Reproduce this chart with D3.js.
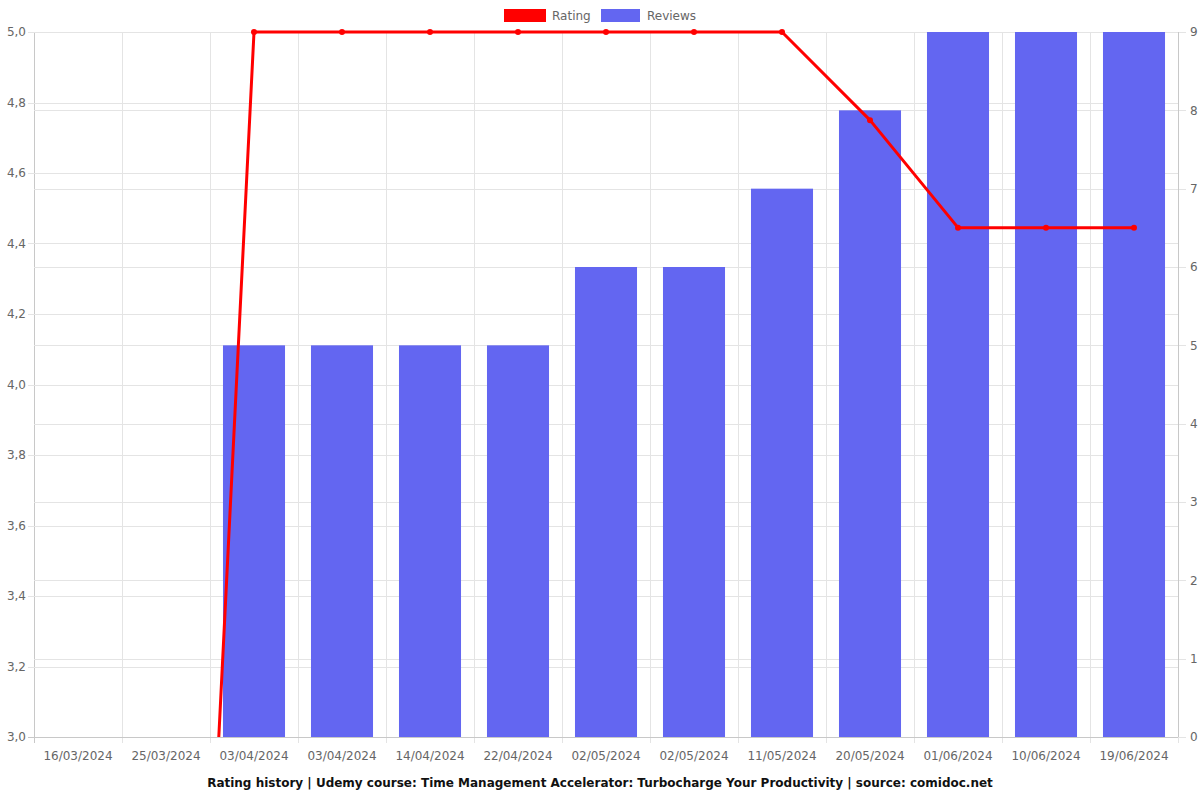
<!DOCTYPE html>
<html><head><meta charset="utf-8">
<script src="https://cdn.jsdelivr.net/npm/d3@7"></script>
<style>body{margin:0;background:#fff}svg{display:block}text{font-family:"DejaVu Sans",sans-serif}</style>
</head><body>
<svg id="c" width="1200" height="800"></svg>
<script>
const dates = ["16/03/2024","25/03/2024","03/04/2024","03/04/2024","14/04/2024","22/04/2024","02/05/2024","02/05/2024","11/05/2024","20/05/2024","01/06/2024","10/06/2024","19/06/2024"];
const reviews = [0,0,5,5,5,5,6,6,7,8,9,9,9];
const rating = [0,0,5,5,5,5,5,5,5,4.75,4.445,4.445,4.445];
const leftTicks = [3.0,3.2,3.4,3.6,3.8,4.0,4.2,4.4,4.6,4.8,5.0];
const rightTicks = [0,1,2,3,4,5,6,7,8,9];
const title = "Rating history | Udemy course: Time Management Accelerator: Turbocharge Your Productivity | source: comidoc.net";

const L=34,R=1178,T=32,B=737;
const svg=d3.select("#c");
const x=d3.scaleBand().domain(d3.range(dates.length)).range([L,R]).paddingInner(0).paddingOuter(0);
const yL=d3.scaleLinear().domain([3,5]).range([B,T]);
const yR=d3.scaleLinear().domain([0,9]).range([B,T]);
const grid="#e4e4e4", axisC="#c8c8c8", txt="#666";

const g=svg.append("g");
d3.range(dates.length+1).forEach(i=>{
  const xx=L+i*x.bandwidth();
  g.append("line").attr("x1",xx+0.5).attr("x2",xx+0.5).attr("y1",T).attr("y2",B+6).attr("stroke",i===0?axisC:grid);
});
leftTicks.forEach(v=>{
  g.append("line").attr("x1",L-6).attr("x2",R).attr("y1",Math.round(yL(v))+0.5).attr("y2",Math.round(yL(v))+0.5).attr("stroke",v===3?axisC:grid);
  g.append("text").attr("x",L-8).attr("y",yL(v)).attr("dy","0.35em").attr("text-anchor","end").attr("font-size",12).attr("fill",txt).text(v.toFixed(1).replace(".",","));
});
rightTicks.forEach(v=>{
  g.append("line").attr("x1",L).attr("x2",R+8).attr("y1",Math.round(yR(v))+0.5).attr("y2",Math.round(yR(v))+0.5).attr("stroke",grid);
  g.append("text").attr("x",R+12).attr("y",yR(v)).attr("dy","0.35em").attr("text-anchor","start").attr("font-size",12).attr("fill",txt).text(v);
});
g.append("line").attr("x1",R+0.5).attr("x2",R+0.5).attr("y1",T).attr("y2",B).attr("stroke",axisC);
g.append("line").attr("x1",L-6).attr("x2",R).attr("y1",B+0.5).attr("y2",B+0.5).attr("stroke",axisC);

const bw=x.bandwidth()*0.705;
svg.append("g").selectAll("rect").data(reviews).join("rect")
  .attr("x",(d,i)=>x(i)+(x.bandwidth()-bw)/2).attr("width",bw)
  .attr("y",d=>yR(d)).attr("height",d=>B-yR(d))
  .attr("fill","#6366f1");

dates.forEach((d,i)=>{
  svg.append("text").attr("x",x(i)+x.bandwidth()/2).attr("y",760).attr("text-anchor","middle").attr("font-size",12).attr("fill",txt).text(d);
});

svg.append("clipPath").attr("id","clip").append("rect").attr("x",L).attr("y",T-5).attr("width",R-L).attr("height",B-T+5);
const cx=i=>x(i)+x.bandwidth()/2;
const lg=svg.append("g").attr("clip-path","url(#clip)");
lg.append("path").datum(rating).attr("d",d3.line().x((d,i)=>cx(i)).y(d=>yL(d)))
  .attr("fill","none").attr("stroke","#ff0000").attr("stroke-width",3).attr("stroke-linejoin","round");
lg.selectAll("circle").data(rating).join("circle").attr("cx",(d,i)=>cx(i)).attr("cy",d=>yL(d)).attr("r",3).attr("fill","#ff0000");

svg.append("rect").attr("x",504).attr("y",9).attr("width",42).attr("height",13).attr("fill","#ff0000");
svg.append("text").attr("x",552).attr("y",20).attr("font-size",12).attr("fill",txt).text("Rating");
svg.append("rect").attr("x",601).attr("y",9).attr("width",39).attr("height",13).attr("fill","#6366f1");
svg.append("text").attr("x",647).attr("y",20).attr("font-size",12).attr("fill",txt).text("Reviews");

svg.append("text").attr("x",600).attr("y",787).attr("text-anchor","middle").attr("font-size",12).attr("font-weight","bold").attr("fill","#111").text(title);
</script>
</body></html>
